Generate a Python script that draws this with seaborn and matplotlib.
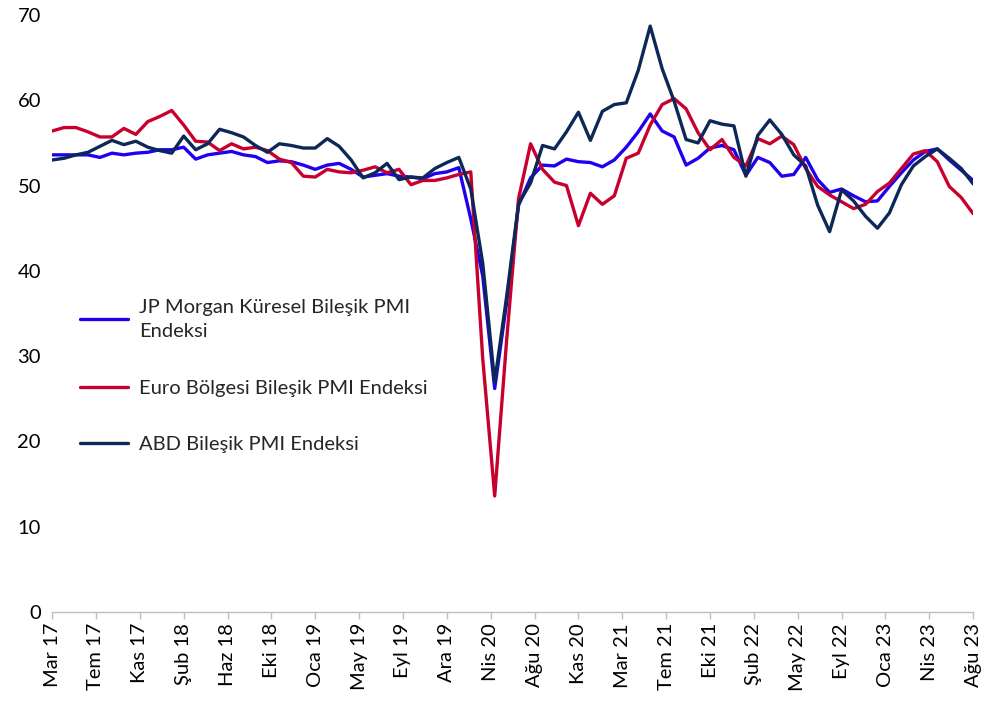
import matplotlib
matplotlib.use("Agg")
import matplotlib.pyplot as plt
import numpy as np
import pandas as pd
import seaborn as sns

# monthly, Mar 2017 .. Aug 2023
jpm_global = [
    53.6, 53.6, 53.6, 53.6, 53.3, 53.8, 53.6, 53.8, 53.9, 54.2,  # 2017
    54.2, 54.5, 53.1, 53.6, 53.8, 54.0, 53.6, 53.4, 52.7, 52.9, 52.8, 52.4,  # 2018
    51.9, 52.4, 52.6, 51.9, 51.0, 51.2, 51.4, 51.1, 51.0, 50.8, 51.4, 51.6,  # 2019
    52.1, 46.1, 39.4, 26.2, 36.3, 47.7, 50.9, 52.4, 52.3, 53.1, 52.8, 52.7,  # 2020
    52.2, 53.0, 54.5, 56.3, 58.4, 56.4, 55.7, 52.4, 53.2, 54.4, 54.7, 54.2,  # 2021
    51.2, 53.3, 52.7, 51.1, 51.3, 53.3, 50.7, 49.2, 49.6, 48.8, 48.1, 48.2,  # 2022
    49.9, 51.5, 53.0, 54.0, 54.3, 53.0, 51.8, 50.6,  # 2023
]
euro_area = [
    56.4, 56.8, 56.8, 56.3, 55.7, 55.7, 56.7, 56.0, 57.5, 58.1,
    58.8, 57.1, 55.2, 55.1, 54.1, 54.9, 54.3, 54.5, 54.1, 53.1, 52.7, 51.1,
    51.0, 51.9, 51.6, 51.5, 51.8, 52.2, 51.5, 51.9, 50.1, 50.6, 50.6, 50.9,
    51.3, 51.6, 29.7, 13.6, 31.9, 48.5, 54.9, 51.9, 50.4, 50.0, 45.3, 49.1,
    47.8, 48.8, 53.2, 53.8, 57.1, 59.5, 60.2, 59.0, 56.2, 54.2, 55.4, 53.3,
    52.3, 55.5, 54.9, 55.8, 54.8, 52.0, 49.9, 48.9, 48.1, 47.3, 47.8, 49.3,
    50.3, 52.0, 53.7, 54.1, 52.8, 49.9, 48.6, 46.7,
]
usa = [
    53.0, 53.2, 53.6, 53.9, 54.6, 55.3, 54.8, 55.2, 54.5, 54.1,
    53.8, 55.8, 54.2, 54.9, 56.6, 56.2, 55.7, 54.7, 53.9, 54.9, 54.7, 54.4,
    54.4, 55.5, 54.6, 53.0, 50.9, 51.5, 52.6, 50.7, 51.0, 50.9, 52.0, 52.7,
    53.3, 49.6, 40.9, 27.0, 37.0, 47.9, 50.3, 54.7, 54.3, 56.3, 58.6, 55.3,
    58.7, 59.5, 59.7, 63.5, 68.7, 63.7, 59.9, 55.4, 55.0, 57.6, 57.2, 57.0,
    51.1, 55.9, 57.7, 56.0, 53.6, 52.3, 47.7, 44.6, 49.5, 48.2, 46.4, 45.0,
    46.8, 50.1, 52.3, 53.4, 54.3, 53.2, 52.0, 50.2,
]

series_names = [
    "JP Morgan Küresel Bileşik PMI\nEndeksi",
    "Euro Bölgesi Bileşik PMI Endeksi",
    "ABD Bileşik PMI Endeksi",
]
colors = ["#2000F0", "#C8002E", "#0B2857"]

tick_labels = [
    "Mar 17", "Tem 17", "Kas 17", "Şub 18", "Haz 18", "Eki 18", "Oca 19",
    "May 19", "Eyl 19", "Ara 19", "Nis 20", "Ağu 20", "Kas 20", "Mar 21",
    "Tem 21", "Eki 21", "Şub 22", "May 22", "Eyl 22", "Oca 23", "Nis 23",
    "Ağu 23",
]

months = np.arange(len(usa))
frame = pd.concat(
    [
        pd.DataFrame({"month": months, "value": vals, "series": name})
        for name, vals in zip(series_names, [jpm_global, euro_area, usa])
    ],
    ignore_index=True,
)

sns.set_theme(style="white")
plt.rcParams["font.family"] = ["Lato", "DejaVu Sans"]

fig = plt.figure(figsize=(9.83, 7.04), dpi=100)
ax = fig.add_axes([0.053, 0.1307, 0.937, 0.848])

sns.lineplot(
    data=frame,
    x="month",
    y="value",
    hue="series",
    hue_order=series_names,
    palette=colors,
    linewidth=2.4,
    ax=ax,
)

ax.set_xlim(0, len(usa) - 1)
ax.set_ylim(0, 70)
ax.set_yticks(np.arange(0, 71, 10))
ax.set_xticks(np.linspace(0, len(usa) - 1, len(tick_labels)))
ax.set_xticklabels(tick_labels, rotation=90)
ax.set_xlabel("")
ax.set_ylabel("")
ax.tick_params(axis="y", labelsize=14.5, length=0, pad=8, colors="#000000")
ax.tick_params(axis="x", labelsize=14.5, length=5, width=1, color="#BFBFBF",
               direction="out", bottom=True, pad=3, labelcolor="#000000")
for side in ("left", "right", "top"):
    ax.spines[side].set_visible(False)
ax.spines["bottom"].set_color("#BFBFBF")
ax.spines["bottom"].set_linewidth(1)

leg = ax.legend(
    loc="upper left",
    bbox_to_anchor=(0.03, 0.525),
    frameon=False,
    fontsize=14.5,
    handlelength=2.4,
    handletextpad=0.55,
    labelspacing=1.95,
    borderpad=0,
    borderaxespad=0,
)
for text in leg.get_texts():
    text.set_linespacing(1.55)

fig.savefig("out.png", dpi=100)
